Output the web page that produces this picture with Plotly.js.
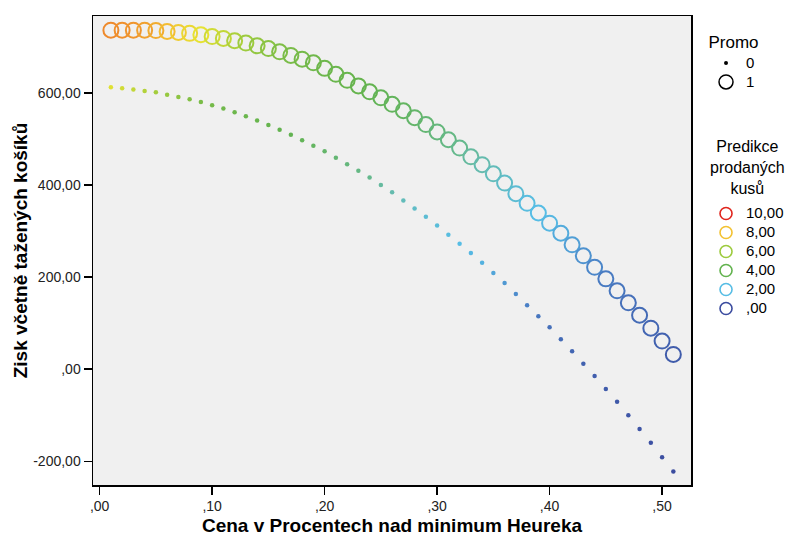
<!DOCTYPE html>
<html>
<head>
<meta charset="utf-8">
<script src="https://cdn.plot.ly/plotly-3.0.1.min.js"></script>
<style>html,body{margin:0;padding:0;background:#fff;}#chart{width:800px;height:541px;}</style>
</head>
<body>
<div id="chart"></div>
<script>
// Price above Heureka minimum (share)
const cena = [0.01,0.02,0.03,0.04,0.05,0.06,0.07,0.08,0.09,0.10,
              0.11,0.12,0.13,0.14,0.15,0.16,0.17,0.18,0.19,0.20,
              0.21,0.22,0.23,0.24,0.25,0.26,0.27,0.28,0.29,0.30,
              0.31,0.32,0.33,0.34,0.35,0.36,0.37,0.38,0.39,0.40,
              0.41,0.42,0.43,0.44,0.45,0.46,0.47,0.48,0.49,0.50,0.51];

// Promo = 1 : profit
const ziskPromo1 = [736,736,736,736,735,733,731,729,726,722,
                    718,713,708,702,696,689,681,673,665,653,
                    640,627,615,602,589,575,561,546,531,515,
                    498,480,461,444,424,404,381,360,339,317,
                    295,270,246,221,196,170,144,117,89,61,32];
// Promo = 0 : profit
const ziskPromo0 = [612,610,607,604,601,596,591,586,580,573,
                    566,558,549,540,530,520,509,497,485,473,
                    459,445,431,416,400,384,366,349,331,312,
                    292,272,252,231,209,187,163,139,115,91,
                    65,39,12,-15,-43,-71,-100,-130,-160,-191,-222];

// Predicted units sold (colour)
const kusyPromo1 = [9.0,8.9,8.8,8.6,8.4,8.1,7.7,7.3,7.0,6.7,
                    6.5,6.2,6.0,5.7,5.4,5.1,4.9,4.7,4.5,4.4,
                    4.3,4.2,4.1,4.0,3.9,3.85,3.8,3.7,3.6,3.5,
                    3.4,3.3,3.1,2.9,2.7,2.5,2.3,2.1,2.0,1.9,
                    1.7,1.5,1.3,1.1,0.9,0.8,0.7,0.6,0.5,0.4,0.3];
const kusyPromo0 = [6.9,6.7,6.5,6.3,6.1,5.8,5.5,5.2,4.9,4.7,
                    4.5,4.4,4.3,4.2,4.1,4.0,3.95,3.9,3.8,3.7,
                    3.6,3.5,3.4,3.3,3.1,2.9,2.7,2.5,2.3,2.2,
                    2.1,2.0,1.9,1.8,1.6,1.4,1.2,1.0,0.8,0.7,
                    0.6,0.5,0.4,0.35,0.3,0.25,0.2,0.15,0.1,0.05,0.0];

// Tick labels
const xTickVals = [0,0.1,0.2,0.3,0.4,0.5];
const xTickText = [",00",",10",",20",",30",",40",",50"];
const yTickVals = [-200,0,200,400,600];
const yTickText = ["-200,00",",00","200,00","400,00","600,00"];

// Legends
const promoLabels = ["0","1"];
const kusyTitleLines = ["Predikce","prodaných","kusů"];
const kusyLegendVals = [10,8,6,4,2,0];
const kusyLegendText = ["10,00","8,00","6,00","4,00","2,00",",00"];

const stops = [
  [0.0,"#3b4c9f"],[0.1,"#4a80c6"],[0.2,"#57bde5"],[0.3,"#66bba8"],
  [0.4,"#63b34f"],[0.5,"#7cbd47"],[0.6,"#9dcb3e"],[0.7,"#e6e232"],
  [0.8,"#f3c232"],[0.9,"#ee8a2c"],[1.0,"#e0261e"]
];
function hex2rgb(h){return [parseInt(h.substr(1,2),16),parseInt(h.substr(3,2),16),parseInt(h.substr(5,2),16)];}
function colorAt(v){
  const t=v/10;
  for(let i=1;i<stops.length;i++){
    if(t<=stops[i][0]){
      const a=stops[i-1],b=stops[i];
      const f=(t-a[0])/(b[0]-a[0]);
      const ca=hex2rgb(a[1]),cb=hex2rgb(b[1]);
      return "rgb("+ca.map((c,k)=>Math.round(c+(cb[k]-c)*f)).join(",")+")";
    }
  }
  return stops[stops.length-1][1];
}

const font = "Liberation Sans, Arial, sans-serif";
const big = s => '<span style="font-size:15px">' + s + '</span>';

const traces = [
  {
    x: cena, y: ziskPromo0, type: "scatter", mode: "markers", showlegend: false,
    marker: {symbol: "circle", size: 4.5, color: kusyPromo0, colorscale: stops, cmin: 0, cmax: 10, line: {width: 0}},
    hoverinfo: "x+y"
  },
  {
    x: cena, y: ziskPromo1, type: "scatter", mode: "markers", showlegend: false,
    marker: {symbol: "circle-open", size: 15, color: kusyPromo1, colorscale: stops, cmin: 0, cmax: 10, line: {width: 2}},
    hoverinfo: "x+y"
  },
  {
    x: [null], y: [null], type: "scatter", mode: "markers", name: big(promoLabels[0]), legend: "legend",
    marker: {symbol: "circle", size: 4, color: "#000"}
  },
  {
    x: [null], y: [null], type: "scatter", mode: "markers", name: big(promoLabels[1]), legend: "legend",
    marker: {symbol: "circle-open", size: 14, color: "#000", line: {width: 1.5}}
  }
];
kusyLegendVals.forEach((v,i)=>{
  traces.push({
    x: [null], y: [null], type: "scatter", mode: "markers", name: big(kusyLegendText[i]), legend: "legend2",
    marker: {symbol: "circle-open", size: 12, color: colorAt(v), line: {width: 1.6}}
  });
});

const plotTop = 16, plotH = 469;
const pyToPaper = py => 1 - (py - plotTop) / plotH;

const layout = {
  width: 800, height: 541,
  margin: {l: 93, r: 108, t: 16, b: 56},
  paper_bgcolor: "#ffffff",
  plot_bgcolor: "#f0f0f0",
  font: {family: font, size: 13, color: "#222"},
  annotations: [{
    text: kusyTitleLines.join("<br>"), xref: "paper", yref: "paper",
    x: 1.0952, y: pyToPaper(168), xanchor: "center", yanchor: "middle", align: "center",
    showarrow: false, font: {family: font, size: 16, color: "#000"}
  }],
  xaxis: {
    range: [-0.0059, 0.5257],
    tickvals: xTickVals, ticktext: xTickText,
    ticks: "outside", ticklen: 8, tickwidth: 1.5, tickcolor: "#000",
    showline: true, linecolor: "#000", linewidth: 1.5, mirror: true,
    showgrid: false, zeroline: false,
    tickfont: {family: font, size: 14, color: "#222"},
    title: {text: "Cena v Procentech nad minimum Heureka", font: {family: font, size: 19, color: "#000", weight: "bold"}, standoff: 5}
  },
  yaxis: {
    range: [-251.5, 766.7],
    tickvals: yTickVals, ticktext: yTickText,
    ticks: "outside", ticklen: 8, tickwidth: 1.5, tickcolor: "#000",
    showline: true, linecolor: "#000", linewidth: 1.5, mirror: true,
    showgrid: false, zeroline: false,
    tickfont: {family: font, size: 14, color: "#222"},
    title: {text: "Zisk včetně tažených košíků", font: {family: font, size: 19, color: "#000", weight: "bold"}, standoff: 0}
  },
  legend: {
    x: 1.0234, xanchor: "left", y: 0.978, yanchor: "top",
    bgcolor: "rgba(0,0,0,0)",
    font: {family: font, size: 12, color: "#000"},
    title: {text: "Promo", font: {family: font, size: 17, color: "#000"}, side: "top center"},
    itemwidth: 30
  },
  legend2: {
    x: 1.0234, xanchor: "left", y: pyToPaper(199), yanchor: "top",
    bgcolor: "rgba(0,0,0,0)",
    font: {family: font, size: 12, color: "#000"},
    itemwidth: 30
  }
};

Plotly.newPlot("chart", traces, layout, {displayModeBar: false, staticPlot: true});
</script>
</body>
</html>
